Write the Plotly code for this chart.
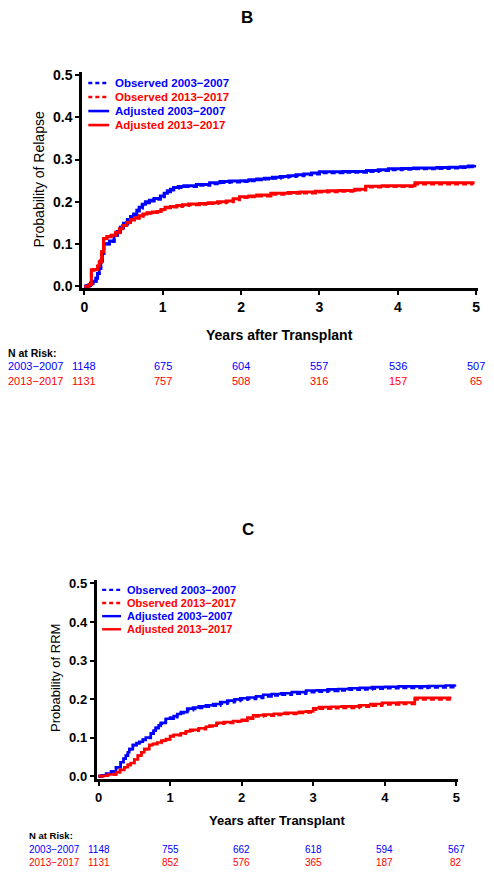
import plotly.graph_objects as go

W, H = 494, 877
BLUE = "#0000FF"
RED = "#FF0000"
FONT = "Liberation Sans, Arial, sans-serif"

# ---------------- Panel B data (Probability of Relapse) ----------------
b_t_blue = [0, 0.04, 0.08, 0.11, 0.15, 0.17, 0.19, 0.21, 0.23, 0.25,
            0.32, 0.38, 0.42, 0.46, 0.50, 0.55, 0.59, 0.63, 0.67, 0.70,
            0.74, 0.78, 0.83, 0.89, 0.97, 1.02, 1.06, 1.10, 1.14, 1.20,
            1.27, 1.43, 1.60, 1.73, 1.85, 2.00, 2.10, 2.20, 2.30, 2.40,
            2.50, 2.60, 2.70, 2.80, 2.90, 3.00, 3.30, 3.60, 3.75, 3.88,
            4.05, 4.20, 4.50, 4.65, 4.80, 4.90, 4.98]
b_adj_blue = [0, 0.002, 0.007, 0.012, 0.019, 0.030, 0.043, 0.060, 0.078, 0.101,
              0.107, 0.121, 0.130, 0.140, 0.149, 0.158, 0.165, 0.171, 0.180, 0.187,
              0.194, 0.200, 0.204, 0.208, 0.214, 0.220, 0.226, 0.230, 0.234, 0.236,
              0.238, 0.241, 0.245, 0.248, 0.249, 0.250, 0.252, 0.254, 0.256, 0.258,
              0.260, 0.262, 0.264, 0.266, 0.268, 0.271, 0.272, 0.274, 0.276, 0.278,
              0.279, 0.280, 0.281, 0.282, 0.283, 0.285, 0.287]
b_obs_blue = [0, 0.002, 0.007, 0.012, 0.019, 0.030, 0.043, 0.060, 0.078, 0.100,
              0.106, 0.120, 0.128, 0.138, 0.147, 0.156, 0.163, 0.169, 0.178, 0.185,
              0.192, 0.198, 0.202, 0.206, 0.212, 0.218, 0.224, 0.228, 0.232, 0.234,
              0.236, 0.239, 0.243, 0.246, 0.247, 0.248, 0.250, 0.252, 0.254, 0.256,
              0.258, 0.260, 0.262, 0.264, 0.266, 0.269, 0.270, 0.272, 0.274, 0.276,
              0.277, 0.278, 0.279, 0.280, 0.281, 0.283, 0.285]

b_t_red = [0, 0.06, 0.09, 0.12, 0.15, 0.17, 0.19, 0.22, 0.245, 0.29,
           0.34, 0.40, 0.45, 0.49, 0.54, 0.59, 0.64, 0.70, 0.75, 0.80,
           0.87, 0.93, 0.98, 1.03, 1.10, 1.18, 1.25, 1.33, 1.47, 1.58,
           1.70, 1.81, 1.90, 1.98, 2.10, 2.20, 2.38, 2.60, 2.75, 2.95,
           3.10, 3.25, 3.45, 3.59, 3.80, 4.00, 4.22, 4.60, 4.96]
b_adj_red = [0, 0.004, 0.039, 0.040, 0.040, 0.048, 0.058, 0.082, 0.113, 0.118,
             0.121, 0.128, 0.136, 0.144, 0.151, 0.158, 0.162, 0.167, 0.171, 0.174,
             0.176, 0.177, 0.182, 0.187, 0.189, 0.191, 0.193, 0.195, 0.196, 0.198,
             0.200, 0.202, 0.207, 0.212, 0.214, 0.216, 0.220, 0.222, 0.223, 0.225,
             0.226, 0.227, 0.230, 0.237, 0.238, 0.238, 0.245, 0.245, 0.244]
b_obs_red = [0, 0.004, 0.038, 0.039, 0.039, 0.047, 0.057, 0.081, 0.112, 0.117,
             0.120, 0.127, 0.135, 0.143, 0.150, 0.157, 0.161, 0.166, 0.170, 0.173,
             0.175, 0.176, 0.181, 0.186, 0.188, 0.189, 0.191, 0.193, 0.194, 0.196,
             0.198, 0.200, 0.205, 0.210, 0.212, 0.214, 0.218, 0.220, 0.221, 0.223,
             0.224, 0.225, 0.228, 0.235, 0.236, 0.236, 0.242, 0.242, 0.241]

b_risk_t = [0, 1, 2, 3, 4, 5]
b_risk_blue = ["1148", "675", "604", "557", "536", "507"]
b_risk_red = ["1131", "757", "508", "316", "157", "65"]

# ---------------- Panel C data (Probability of RRM) ----------------
c_t_blue = [0, 0.05, 0.107, 0.176, 0.245, 0.31, 0.35, 0.38, 0.41, 0.43,
            0.48, 0.53, 0.57, 0.62, 0.66, 0.73, 0.77, 0.80, 0.84, 0.87,
            0.94, 1.00, 1.05, 1.10, 1.15, 1.24, 1.32, 1.40, 1.50, 1.60,
            1.70, 1.80, 1.90, 1.98, 2.08, 2.20, 2.30, 2.42, 2.55, 2.70,
            2.90, 3.05, 3.20, 3.35, 3.50, 3.65, 3.82, 4.00, 4.19, 4.40,
            4.60, 4.85, 4.98]
c_adj_blue = [0, 0.002, 0.006, 0.012, 0.023, 0.036, 0.045, 0.053, 0.062, 0.070,
              0.081, 0.086, 0.089, 0.095, 0.100, 0.111, 0.118, 0.126, 0.132, 0.138,
              0.149, 0.152, 0.156, 0.161, 0.166, 0.175, 0.178, 0.181, 0.184, 0.187,
              0.192, 0.196, 0.199, 0.202, 0.204, 0.207, 0.211, 0.213, 0.215, 0.218,
              0.222, 0.223, 0.225, 0.226, 0.228, 0.229, 0.231, 0.232, 0.233, 0.233,
              0.234, 0.235, 0.238]
c_obs_blue = [0, 0.002, 0.006, 0.012, 0.023, 0.036, 0.045, 0.053, 0.062, 0.070,
              0.080, 0.085, 0.088, 0.094, 0.099, 0.110, 0.116, 0.124, 0.130, 0.136,
              0.146, 0.149, 0.153, 0.158, 0.163, 0.171, 0.174, 0.177, 0.180, 0.183,
              0.188, 0.192, 0.195, 0.198, 0.200, 0.203, 0.207, 0.209, 0.211, 0.214,
              0.218, 0.219, 0.221, 0.222, 0.224, 0.225, 0.227, 0.228, 0.229, 0.229,
              0.230, 0.231, 0.234]

c_t_red = [0, 0.07, 0.13, 0.245, 0.30, 0.36, 0.41, 0.45, 0.50, 0.55,
           0.60, 0.64, 0.71, 0.76, 0.82, 0.88, 0.94, 1.00, 1.05, 1.15,
           1.22, 1.28, 1.40, 1.50, 1.55, 1.65, 1.75, 1.88, 2.00, 2.08,
           2.16, 2.30, 2.45, 2.60, 2.80, 2.90, 3.00, 3.08, 3.25, 3.40,
           3.64, 3.80, 3.96, 4.20, 4.42, 4.60, 4.93]
c_adj_red = [0, 0.001, 0.004, 0.010, 0.016, 0.023, 0.029, 0.034, 0.043, 0.053,
             0.062, 0.070, 0.081, 0.084, 0.087, 0.092, 0.096, 0.104, 0.107, 0.111,
             0.116, 0.120, 0.124, 0.128, 0.131, 0.138, 0.140, 0.143, 0.146, 0.152,
             0.158, 0.160, 0.162, 0.164, 0.167, 0.168, 0.176, 0.179, 0.180, 0.181,
             0.184, 0.187, 0.190, 0.191, 0.203, 0.203, 0.203]
c_obs_red = [0, 0.001, 0.004, 0.010, 0.016, 0.023, 0.029, 0.034, 0.043, 0.053,
             0.062, 0.070, 0.080, 0.083, 0.086, 0.091, 0.095, 0.103, 0.106, 0.110,
             0.114, 0.118, 0.122, 0.126, 0.129, 0.136, 0.138, 0.141, 0.144, 0.149,
             0.155, 0.157, 0.159, 0.161, 0.164, 0.165, 0.172, 0.175, 0.176, 0.177,
             0.180, 0.183, 0.186, 0.187, 0.199, 0.199, 0.199]

c_risk_t = [0, 1, 2, 3, 4, 5]
c_risk_blue = ["1148", "755", "662", "618", "594", "567"]
c_risk_red = ["1131", "852", "576", "365", "187", "82"]

legend_labels = ["Observed 2003\u22122007", "Observed 2013\u22122017",
                 "Adjusted 2003\u22122007", "Adjusted 2013\u22122017"]
group_labels = ["2003\u22122007", "2013\u22122017"]


def px(x):
    return x / W


def py(y):
    return 1 - y / H


fig = go.Figure()

DASH = "5px,3px"
# panel B traces (observed drawn first, adjusted on top)
for t, v, col, dash in [(b_t_blue, b_obs_blue, BLUE, DASH), (b_t_red, b_obs_red, RED, DASH),
                        (b_t_blue, b_adj_blue, BLUE, "solid"), (b_t_red, b_adj_red, RED, "solid")]:
    fig.add_trace(go.Scatter(x=t, y=v, mode="lines", line=dict(color=col, width=3, dash=dash, shape="hv"),
                             xaxis="x", yaxis="y", showlegend=False, hoverinfo="skip"))
# panel C traces
for t, v, col, dash in [(c_t_blue, c_obs_blue, BLUE, DASH), (c_t_red, c_obs_red, RED, DASH),
                        (c_t_blue, c_adj_blue, BLUE, "solid"), (c_t_red, c_adj_red, RED, "solid")]:
    fig.add_trace(go.Scatter(x=t, y=v, mode="lines", line=dict(color=col, width=2.6, dash=dash, shape="hv"),
                             xaxis="x2", yaxis="y2", showlegend=False, hoverinfo="skip"))

axis_common = dict(showline=True, linewidth=3, linecolor="black", mirror=False, showgrid=False,
                   zeroline=False, ticks="outside", tickcolor="black", tickwidth=2, ticklen=4,
                   fixedrange=True)

fig.update_layout(
    width=W, height=H, margin=dict(l=0, r=0, t=0, b=0),
    paper_bgcolor="white", plot_bgcolor="white", showlegend=False,
    font=dict(family=FONT, color="black"),
    xaxis=dict(domain=[px(81), px(480)], range=[-0.025, 5.025], tickvals=[0, 1, 2, 3, 4, 5],
               tickfont=dict(size=14, family=FONT, weight="bold"), anchor="y", **axis_common),
    yaxis=dict(domain=[py(287), py(68)], range=[-0.005, 0.507], tickvals=[0, 0.1, 0.2, 0.3, 0.4, 0.5],
               tickformat=".1f", tickfont=dict(size=14, family=FONT, weight="bold"), anchor="x", **axis_common),
    xaxis2=dict(domain=[px(95.5), px(459.5)], range=[-0.025, 5.02], tickvals=[0, 1, 2, 3, 4, 5],
                tickfont=dict(size=13, family=FONT, weight="bold"), anchor="y2", **axis_common),
    yaxis2=dict(domain=[py(784), py(582.7)], range=[-0.008, 0.508], tickvals=[0, 0.1, 0.2, 0.3, 0.4, 0.5],
                tickformat=".1f", tickfont=dict(size=13, family=FONT, weight="bold"), anchor="x2", **axis_common),
)

ann = []
shapes = []


def text(x, y, s, size, color="black", bold=False, xanchor="center", angle=0, xref="paper"):
    ann.append(dict(x=x, y=y, xref=xref, yref="paper", text=s, showarrow=False,
                    xanchor=xanchor, yanchor="middle", textangle=angle,
                    font=dict(size=size, color=color, family=FONT, weight="bold" if bold else "normal")))


# titles
text(px(247), py(13), "B", 17, bold=True)
text(px(248), py(531), "C", 17, bold=True)
# axis titles
text(px(280), py(334), "Years after Transplant", 14, bold=True)
text(px(278), py(826), "Years after Transplant", 13, bold=True)
text(px(37), py(177), "Probability of Relapse", 14, angle=-90)
text(px(54), py(682), "Probability of RRM", 13, angle=-90)

# legends
colors = [BLUE, RED, BLUE, RED]
dashes = ["4px,3px", "4px,3px", "solid", "solid"]
for i, lab in enumerate(legend_labels):
    yb = 79 + i * 14.2
    shapes.append(dict(type="line", xref="paper", yref="paper", x0=px(87), x1=px(108), y0=py(yb), y1=py(yb),
                       line=dict(color=colors[i], width=2.6, dash=dashes[i])))
    text(px(112), py(yb), lab, 11.5, color=colors[i], bold=True, xanchor="left")
    yc = 592.3 + i * 13.3
    shapes.append(dict(type="line", xref="paper", yref="paper", x0=px(101), x1=px(120), y0=py(yc), y1=py(yc),
                       line=dict(color=colors[i], width=2.4, dash=dashes[i])))
    text(px(124), py(yc), lab, 11, color=colors[i], bold=True, xanchor="left")

# N at risk tables
text(px(4), py(352), "N at Risk:", 10.5, bold=True, xanchor="left")
text(px(4), py(366), group_labels[0], 11, color=BLUE, xanchor="left")
text(px(4), py(381), group_labels[1], 11, color=RED, xanchor="left")
for t, nb, nr in zip(b_risk_t, b_risk_blue, b_risk_red):
    text(t, py(366), nb, 11, color=BLUE, xref="x")
    text(t, py(381), nr, 11, color=RED, xref="x")

text(px(25), py(841), "N at Risk:", 9.5, bold=True, xanchor="left")
text(px(25), py(855), group_labels[0], 10, color=BLUE, xanchor="left")
text(px(25), py(868), group_labels[1], 10, color=RED, xanchor="left")
for t, nb, nr in zip(c_risk_t, c_risk_blue, c_risk_red):
    text(t, py(855), nb, 10, color=BLUE, xref="x2")
    text(t, py(868), nr, 10, color=RED, xref="x2")

fig.update_layout(annotations=ann, shapes=shapes)
fig.write_html("out.html", config={"displayModeBar": False},
               post_script="document.body.style.margin='0';document.body.style.overflow='hidden';")
